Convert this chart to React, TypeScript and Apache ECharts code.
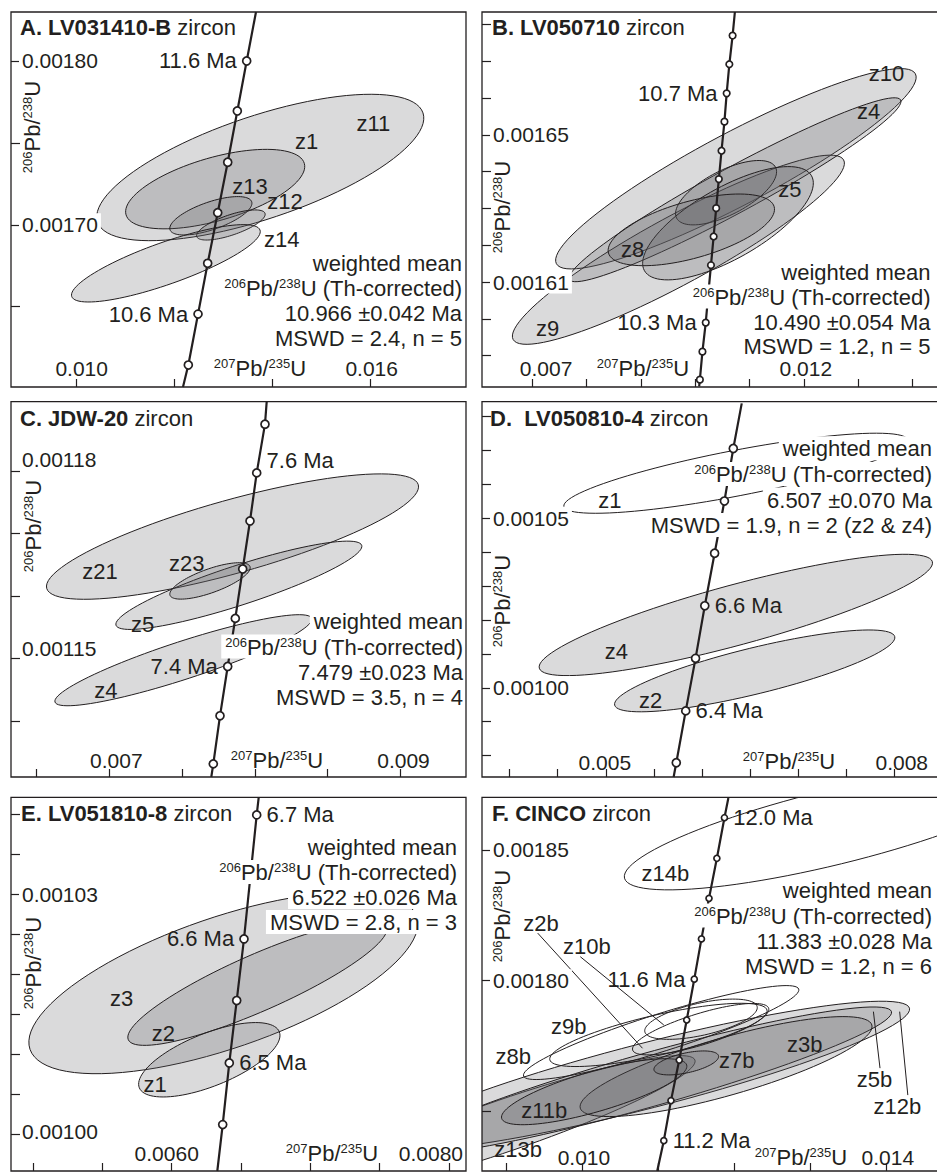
import React, { useEffect, useRef } from 'react';
import * as echarts from 'echarts';

const FONT = "'Liberation Sans', Arial, Helvetica, sans-serif";
const INK = '#231f20';
const FILL = 'rgba(95,97,101,0.23)';
const TXT = 22;
const SUP = 13;
const PB206 = '{s|206}Pb/{s|238}U (Th-corrected)';
const PB207 = '{s|207}Pb/{s|235}U';
const PB206Y = '{s|206}Pb/{s|238}U';

// ---------------- Panel A: LV031410-B ----------------
const xTicksA = [0.010, 0.012, 0.014, 0.016];
const xLabelsA: [number, string][] = [[0.010, '0.010'], [0.016, '0.016']];
const yTicksA = [0.00165, 0.0017, 0.00175, 0.0018];
const yLabelsA: [number, string][] = [[0.0017, '0.00170'], [0.0018, '0.00180']];
// concordia: [207Pb/235U, 206Pb/238U, age Ma | null]
const concordiaA: [number, number, number | null][] = [
  [0.013659, 0.0018299, null], [0.013469, 0.00180, 11.6], [0.013278, 0.0017695, 11.4],
  [0.013082, 0.0017382, 11.2], [0.012878, 0.0017074, 11.0], [0.012673, 0.0016765, 10.8],
  [0.012476, 0.0016455, 10.6], [0.012278, 0.0016144, 10.4], [0.012169, 0.0016010, null],
];
const ageLabelsA: [number, string][] = [[11.6, 'left'], [10.6, 'left']];
// ellipses: [centre x, centre y, major-axis tip x, tip y, minor/major ratio, filled]
const ellipsesA = [
  [0.013746, 0.0017350, 0.017067, 0.0017683, 0.30, 1],
  [0.012826, 0.0017218, 0.014645, 0.0017375, 0.34, 1],
  [0.012738, 0.0017055, 0.013571, 0.0017141, 0.32, 1],
  [0.013146, 0.0016999, 0.013843, 0.0017070, 0.28, 1],
  [0.011820, 0.0016765, 0.013741, 0.0016968, 0.21, 1],
];
const grainLabelsA: [number, number, string][] = [
  [0.016053, 0.0017620, 'z11'], [0.014694, 0.0017507, 'z1'], [0.013537, 0.0017233, 'z13'],
  [0.014251, 0.0017141, 'z12'], [0.014184, 0.0016912, 'z14'],
];
const meanA = ['10.966 ±0.042 Ma', 'MSWD = 2.4, n = 5'];

// ---------------- Panel B: LV050710 ----------------
const xTicksB = [0.007, 0.008, 0.009, 0.010, 0.011, 0.012, 0.013, 0.014];
const xLabelsB: [number, string][] = [[0.007, '0.007'], [0.012, '0.012']];
const yTicksB = [0.00159, 0.0016, 0.00161, 0.00162, 0.00163, 0.00164, 0.00165, 0.00166, 0.00167, 0.00168];
const yLabelsB: [number, string][] = [[0.00161, '0.00161'], [0.00165, '0.00165']];
const concordiaB: [number, number, number | null][] = [
  [0.010731, 0.0016834, null], [0.010689, 0.0016770, 10.80], [0.010629, 0.0016692, 10.75],
  [0.010580, 0.0016613, 10.70], [0.010539, 0.0016536, 10.65], [0.010485, 0.0016457, 10.60],
  [0.010436, 0.0016380, 10.55], [0.010387, 0.0016301, 10.50], [0.010340, 0.0016224, 10.45],
  [0.010291, 0.0016146, 10.40], [0.010242, 0.0016068, 10.35], [0.010195, 0.0015990, 10.30],
  [0.010134, 0.0015911, 10.25], [0.010087, 0.0015835, 10.20], [0.010074, 0.0015817, null],
];
const ageLabelsB: [number, string][] = [[10.7, 'left'], [10.3, 'left']];
const ellipsesB = [
  [0.0107496, 0.0016408, 0.0140524, 0.0016666, 0.178, 1],
  [0.0096917, 0.0016188, 0.0127323, 0.0016432, 0.18, 1],
  [0.0107342, 0.0016351, 0.0137811, 0.0016595, 0.12, 1],
  [0.0105687, 0.0016343, 0.0114792, 0.0016412, 0.40, 1],
  [0.0106040, 0.0016260, 0.0121410, 0.0016389, 0.37, 1],
  [0.0099294, 0.0016242, 0.0114538, 0.0016305, 0.33, 1],
];
const grainLabelsB: [number, number, string][] = [
  [0.0135225, 0.0016668, 'z10'], [0.0131898, 0.0016563, 'z4'], [0.0117432, 0.0016351, 'z5'],
  [0.0088499, 0.0016188, 'z8'], [0.0072839, 0.0015975, 'z9'],
];
const meanB = ['10.490 ±0.054 Ma', 'MSWD = 1.2, n = 5'];

// ---------------- Panel C: JDW-20 ----------------
const xTicksC = [0.0065, 0.007, 0.0075, 0.008, 0.0085, 0.009];
const xLabelsC: [number, string][] = [[0.007, '0.007'], [0.009, '0.009']];
const yTicksC = [0.00114, 0.00115, 0.00116, 0.00117, 0.00118];
const yLabelsC: [number, string][] = [[0.00115, '0.00115'], [0.00118, '0.00118']];
const concordiaC: [number, number, number | null][] = [
  [0.0080810, 0.0011911, null], [0.0080693, 0.0011875, 7.65], [0.0080124, 0.0011797, 7.60],
  [0.0079663, 0.0011720, 7.55], [0.0079162, 0.0011643, 7.50], [0.0078654, 0.0011564, 7.45],
  [0.0078132, 0.0011487, 7.40], [0.0077603, 0.0011408, 7.35], [0.0077143, 0.0011331, 7.30],
  [0.0077005, 0.0011310, null],
];
const ageLabelsC: [number, string][] = [[7.6, 'right'], [7.4, 'left']];
const ellipsesC = [
  [0.0078462, 0.0011695, 0.0091222, 0.0011778, 0.19, 1],
  [0.0078898, 0.0011617, 0.0087335, 0.0011681, 0.153, 1],
  [0.0075086, 0.0011497, 0.0083901, 0.0011564, 0.14, 1],
  [0.0076916, 0.0011624, 0.0079663, 0.0011647, 0.28, 1],
];
const grainLabelsC: [number, number, string][] = [
  [0.0069361, 0.0011639, 'z21'], [0.0075316, 0.0011652, 'z23'],
  [0.0072294, 0.0011554, 'z5'], [0.0069773, 0.0011449, 'z4'],
];
const meanC = ['7.479 ±0.023 Ma', 'MSWD = 3.5, n = 4'];

// ---------------- Panel D: LV050810-4 ----------------
const xTicksD = [0.004, 0.0045, 0.005, 0.0055, 0.006, 0.0065, 0.007, 0.0075, 0.008];
const xLabelsD: [number, string][] = [[0.005, '0.005'], [0.008, '0.008']];
const yTicksD = [0.00098, 0.00099, 0.001, 0.00101, 0.00102, 0.00103, 0.00104, 0.00105, 0.00106, 0.00107, 0.00108];
const yLabelsD: [number, string][] = [[0.001, '0.00100'], [0.00105, '0.00105']];
const concordiaD: [number, number, number | null][] = [
  [0.0064112, 0.0010839, null], [0.0063235, 0.0010706, 6.9], [0.0062316, 0.0010551, 6.8],
  [0.0061296, 0.0010397, 6.7], [0.0060276, 0.0010242, 6.6], [0.0059316, 0.0010087, 6.5],
  [0.0058296, 0.0009932, 6.4], [0.0057316, 0.0009779, 6.3], [0.0057041, 0.0009737, null],
];
const ageLabelsD: [number, string][] = [[6.6, 'right'], [6.4, 'right']];
const ellipsesD = [
  [0.0063500, 0.0010215, 0.0083908, 0.0010372, 0.148, 1],
  [0.0065459, 0.0010050, 0.0080000, 0.0010151, 0.16, 1],
  [0.0063500, 0.0010633, 0.0081357, 0.0010731, 0.13, 0],
];
const grainLabelsD: [number, number, string][] = [
  [0.0050408, 0.0010554, 'z1'], [0.0051092, 0.0010106, 'z4'], [0.0054663, 0.0009964, 'z2'],
];
const meanD = ['6.507 ±0.070 Ma', 'MSWD = 1.9, n = 2 (z2 & z4)'];

// ---------------- Panel E: LV051810-8 ----------------
const xTicksE = [0.005, 0.0055, 0.006, 0.0065, 0.007, 0.0075, 0.008];
const xLabelsE: [number, string][] = [[0.006, '0.0060'], [0.008, '0.0080']];
const yTicksE = [0.001, 0.001005, 0.00101, 0.001015, 0.00102, 0.001025, 0.00103, 0.001035, 0.00104];
const yLabelsE: [number, string][] = [[0.001, '0.00100'], [0.00103, '0.00103']];
const concordiaE: [number, number, number | null][] = [
  [0.0066277, 0.0010421, null], [0.0066133, 0.0010399, 6.70], [0.0065671, 0.0010321, 6.65],
  [0.0065216, 0.0010244, 6.60], [0.0064690, 0.0010167, 6.55], [0.0064156, 0.0010089, 6.50],
  [0.0063680, 0.0010012, 6.45], [0.0063290, 0.0009954, null],
];
const ageLabelsE: [number, string][] = [[6.7, 'right'], [6.6, 'left'], [6.5, 'right']];
const ellipsesE = [
  [0.0063727, 0.0010189, 0.0077677, 0.0010272, 0.32, 1],
  [0.0066191, 0.0010189, 0.0075512, 0.0010260, 0.20, 1],
  [0.0062713, 0.0010093, 0.0067763, 0.0010128, 0.35, 1],
];
const grainLabelsE: [number, number, string][] = [
  [0.0056393, 0.0010170, 'z3'], [0.0059394, 0.0010126, 'z2'], [0.0058795, 0.0010062, 'z1'],
];
const meanE = ['6.522 ±0.026 Ma', 'MSWD = 2.8, n = 3'];

// ---------------- Panel F: CINCO ----------------
const xTicksF = [0.009, 0.010, 0.011, 0.012, 0.013, 0.014];
const xLabelsF: [number, string][] = [[0.010, '0.010'], [0.014, '0.014']];
const yTicksF = [0.00175, 0.0018, 0.00185];
const yLabelsF: [number, string][] = [[0.0018, '0.00180'], [0.00185, '0.00185']];
const concordiaF: [number, number, number | null][] = [
  [0.0119276, 0.0018698, null], [0.0118759, 0.0018623, 12.0], [0.0117763, 0.0018468, 11.9],
  [0.0116728, 0.0018315, 11.8], [0.0115732, 0.0018160, 11.7], [0.0114787, 0.0018006, 11.6],
  [0.0113791, 0.0017850, 11.5], [0.0112808, 0.0017697, 11.4], [0.0111721, 0.0017542, 11.3],
  [0.0110777, 0.0017389, 11.2], [0.0109910, 0.0017273, null],
];
const ageLabelsF: [number, string][] = [[12.0, 'right'], [11.6, 'left'], [11.2, 'right']];
const ellipsesF = [
  [0.0090078, 0.0017449, 0.0114878, 0.0017697, 0.13, 1],
  [0.0108513, 0.0017637, 0.0143119, 0.0017895, 0.12, 1],
  [0.0108410, 0.0017618, 0.0140752, 0.0017882, 0.105, 1],
  [0.0118972, 0.0017672, 0.0138164, 0.0017831, 0.19, 1],
  [0.0101611, 0.0017576, 0.0113791, 0.0017678, 0.21, 1],
  [0.0113733, 0.0017686, 0.0117982, 0.0017713, 0.30, 1],
  [0.0110065, 0.0017793, 0.0124360, 0.0017888, 0.18, 0],
  [0.0110427, 0.0017802, 0.0128539, 0.0017968, 0.13, 0],
  [0.0115673, 0.0017853, 0.0123067, 0.0017901, 0.28, 0],
  [0.0115628, 0.0017815, 0.0124580, 0.0017895, 0.22, 0],
  [0.0132983, 0.0018586, 0.0160364, 0.0018780, 0.175, 0],
];
const grainLabelsF: [number, number, string][] = [
  [0.0110996, 0.0018411, 'z14b'], [0.0094605, 0.0018220, 'z2b'], [0.0100647, 0.0018130, 'z10b'],
  [0.0098266, 0.0017827, 'z9b'], [0.0090944, 0.0017710, 'z8b'], [0.0120389, 0.0017697, 'z7b'],
  [0.0129315, 0.0017755, 'z3b'], [0.0138500, 0.0017621, 'z5b'], [0.0141528, 0.0017519, 'z12b'],
  [0.0095032, 0.0017506, 'z11b'], [0.0091591, 0.0017356, 'z13b'],
];
const leadersF = [
  [0.0094178, 0.0018182, 0.0107969, 0.0017742],
  [0.0099780, 0.0018092, 0.0110777, 0.0017831],
  [0.0138371, 0.0017882, 0.0139238, 0.0017666],
  [0.0141826, 0.0017882, 0.0142899, 0.0017563],
];
const meanF = ['11.383 ±0.028 Ma', 'MSWD = 1.2, n = 6'];

// ---------------- layout of the six panels ----------------
const panels: any[] = [
  {
    box: [11, 12, 455, 375], xRange: [0.0086592, 0.0179448], yRange: [0.0016010, 0.0018299],
    xTicks: xTicksA, xLabels: xLabelsA, xDx: [5, 1], xMargin: 8, yTicks: yTicksA, yLabels: yLabelsA, yDy: [0, 0],
    concordia: concordiaA, ageLabels: ageLabelsA, ellipses: ellipsesA, grainLabels: grainLabelsA, leaders: [],
    mark: 8, title: '{b|A. LV031410-B} zircon', titleAt: [20, 27], mean: meanA, meanX: 466, meanY: [263.3, 288.3, 313.3, 338.3],
    yTitleAt: [32, 127], xTitleAt: [260, 368],
  },
  {
    box: [482, 12, 463, 375], xRange: [0.0060778, 0.0144502], yRange: [0.0015815, 0.0016834],
    xTicks: xTicksB, xLabels: xLabelsB, xDx: [14, 2], xMargin: 8, yTicks: yTicksB, yLabels: yLabelsB, yDy: [0, 0],
    concordia: concordiaB, ageLabels: ageLabelsB, ellipses: ellipsesB, grainLabels: grainLabelsB, leaders: [],
    mark: 6.5, title: '{b|B. LV050710} zircon', titleAt: [492, 27], mean: meanB, meanX: 934.5, meanY: [271.5, 296.5, 321.5, 346.3],
    yTitleAt: [502, 207], xTitleAt: [643, 368],
  },
  {
    box: [11, 401.7, 455, 375.3], xRange: [0.0063249, 0.0094498], yRange: [0.0011310, 0.0011911],
    xTicks: xTicksC, xLabels: xLabelsC, xDx: [7, 3], xMargin: 6, yTicks: yTicksC, yLabels: yLabelsC, yDy: [-10, -12],
    concordia: concordiaC, ageLabels: ageLabelsC, ellipses: ellipsesC, grainLabels: grainLabelsC, leaders: [],
    mark: 8, title: '{b|C. JDW-20} zircon', titleAt: [20, 418], mean: meanC, meanX: 467, meanY: [621, 646.5, 671.5, 696.5],
    yTitleAt: [33, 526], xTitleAt: [277, 760],
  },
  {
    box: [482, 401.7, 463, 375.3], xRange: [0.0037143, 0.0084387], yRange: [0.0009737, 0.0010844],
    xTicks: xTicksD, xLabels: xLabelsD, xDx: [-1, 7], xMargin: 4, yTicks: yTicksD, yLabels: yLabelsD, yDy: [0, 0],
    concordia: concordiaD, ageLabels: ageLabelsD, ellipses: ellipsesD, grainLabels: grainLabelsD, leaders: [],
    mark: 8, title: '{b|D.  LV050810-4} zircon', titleAt: [490, 418], mean: meanD, meanX: 936, meanY: [448.3, 474, 499.5, 525],
    yTitleAt: [502, 601], xTitleAt: [789, 761],
  },
  {
    box: [11, 797.3, 455, 373.7], xRange: [0.0048405, 0.0081234], yRange: [0.0009954, 0.0010421],
    xTicks: xTicksE, xLabels: xLabelsE, xDx: [-5, -18], xMargin: 7, yTicks: yTicksE, yLabels: yLabelsE, yDy: [-3, 0],
    concordia: concordiaE, ageLabels: ageLabelsE, ellipses: ellipsesE, grainLabels: grainLabelsE, leaders: [],
    mark: 8, title: '{b|E. LV051810-8} zircon', titleAt: [21, 813], mean: meanE, meanX: 461, meanY: [847.3, 872, 897, 922],
    yTitleAt: [33, 963], xTitleAt: [332, 1153],
  },
  {
    box: [482, 797.3, 463, 373.7], xRange: [0.0086843, 0.0146741], yRange: [0.0017273, 0.0018701],
    xTicks: xTicksF, xLabels: xLabelsF, xDx: [2, 2], xMargin: 3, yTicks: yTicksF, yLabels: yLabelsF, yDy: [0, 0],
    concordia: concordiaF, ageLabels: ageLabelsF, ellipses: ellipsesF, grainLabels: grainLabelsF, leaders: leadersF,
    mark: 6, title: '{b|F. CINCO} zircon', titleAt: [492, 813], mean: meanF, meanX: 936, meanY: [890, 915.5, 940.5, 965.5],
    yTitleAt: [502, 916], xTitleAt: [801, 1157],
  },
];

const supRich = {
  s: { fontSize: SUP, fontFamily: FONT, fill: INK, color: INK, verticalAlign: 'top', lineHeight: 12 },
  b: { fontSize: TXT, fontFamily: FONT, fill: INK, color: INK, fontWeight: 'bold', lineHeight: 23 },
};

function nearest(list: [number, string][], v: number) {
  let k = 0;
  let best = Infinity;
  list.forEach((d, i) => {
    const diff = Math.abs(d[0] - v);
    if (diff < best) { best = diff; k = i; }
  });
  return k;
}

function buildOption() {
  const grid: any[] = [];
  const xAxis: any[] = [];
  const yAxis: any[] = [];
  const series: any[] = [];
  const graphic: any[] = [];

  panels.forEach((p, i) => {
    const [l, t, w, h] = p.box;
    grid.push({ left: l, top: t, width: w, height: h, show: false });

    const xRich: any = {};
    p.xLabels.forEach((_: any, k: number) => {
      const dx = p.xDx[k];
      xRich['t' + k] = {
        fontSize: 21, fontFamily: FONT, color: INK,
        padding: dx >= 0 ? [0, 0, 0, 2 * dx] : [0, -2 * dx, 0, 0],
      };
    });
    xAxis.push({
      gridIndex: i, type: 'value', min: p.xRange[0], max: p.xRange[1], position: 'bottom', z: 5,
      axisLine: { show: false, onZero: false },
      axisTick: { show: true, inside: true, length: 8, customValues: p.xTicks, lineStyle: { color: INK, width: 1.2 } },
      axisLabel: {
        show: true, inside: true, margin: p.xMargin, customValues: p.xLabels.map((d: any) => d[0]),
        formatter: (v: number) => { const k = nearest(p.xLabels, v); return '{t' + k + '|' + p.xLabels[k][1] + '}'; },
        rich: xRich,
      },
      splitLine: { show: false },
    });

    const yRich: any = {};
    p.yLabels.forEach((_: any, k: number) => {
      const dy = p.yDy[k];
      yRich['t' + k] = dy === 0
        ? { fontSize: 21, fontFamily: FONT, color: INK, backgroundColor: '#fff', padding: [1, 3, 1, 3] }
        : { fontSize: 21, fontFamily: FONT, color: INK, padding: [0, 0, -2 * dy, 3] };
    });
    yAxis.push({
      gridIndex: i, type: 'value', min: p.yRange[0], max: p.yRange[1], position: 'left', z: 5,
      axisLine: { show: false, onZero: false },
      axisTick: { show: true, inside: true, length: 9, customValues: p.yTicks, lineStyle: { color: INK, width: 1.2 } },
      axisLabel: {
        show: true, inside: true, margin: 8, customValues: p.yLabels.map((d: any) => d[0]),
        formatter: (v: number) => { const k = nearest(p.yLabels, v); return '{t' + k + '|' + p.yLabels[k][1] + '}'; },
        rich: yRich,
      },
      splitLine: { show: false },
    });

    // error ellipses
    series.push({
      type: 'custom', xAxisIndex: i, yAxisIndex: i, clip: true, z: 2, silent: true,
      data: p.ellipses.map((e: number[]) => [e[0], e[1]]),
      renderItem: (params: any, api: any) => {
        const e = p.ellipses[params.dataIndex];
        const c = api.coord([e[0], e[1]]);
        const tp = api.coord([e[2], e[3]]);
        const ux = tp[0] - c[0];
        const uy = tp[1] - c[1];
        const a = Math.hypot(ux, uy);
        const b = a * e[4];
        const ex = ux / a;
        const ey = uy / a;
        const pts: number[][] = [];
        for (let k = 0; k < 96; k++) {
          const th = (2 * Math.PI * k) / 96;
          const ca = a * Math.cos(th);
          const sb = b * Math.sin(th);
          pts.push([c[0] + ca * ex - sb * ey, c[1] + ca * ey + sb * ex]);
        }
        return {
          type: 'polygon', shape: { points: pts },
          style: { fill: e[5] ? FILL : 'none', stroke: INK, lineWidth: 1 },
        };
      },
    });

    if (p.leaders.length) {
      series.push({
        type: 'custom', xAxisIndex: i, yAxisIndex: i, clip: true, z: 3, silent: true,
        data: p.leaders.map((d: number[]) => [d[0], d[1]]),
        renderItem: (params: any, api: any) => {
          const d = p.leaders[params.dataIndex];
          const s = api.coord([d[0], d[1]]);
          const e = api.coord([d[2], d[3]]);
          return { type: 'line', shape: { x1: s[0], y1: s[1], x2: e[0], y2: e[1] }, style: { stroke: INK, lineWidth: 1 } };
        },
      });
    }

    // concordia curve with age ticks
    series.push({
      type: 'line', xAxisIndex: i, yAxisIndex: i, z: 4, silent: true, clip: true,
      symbol: 'circle', symbolSize: p.mark,
      itemStyle: { color: '#fff', borderColor: INK, borderWidth: 1.7 },
      lineStyle: { color: INK, width: 2.2 },
      label: { fontSize: TXT, fontFamily: FONT, color: INK, distance: 5 },
      data: p.concordia.map((c: any[]) => {
        const age = c[2];
        const lab = age == null ? null : p.ageLabels.find((a: any) => Math.abs(a[0] - age) < 1e-6);
        const item: any = { value: [c[0], c[1]], symbol: age == null ? 'none' : 'circle' };
        if (lab) {
          item.label = {
            show: true, position: lab[1], formatter: age.toFixed(1) + ' Ma',
            offset: i === 2 && lab[1] === 'right' ? [0, -12] : [0, 0],
          };
        }
        return item;
      }),
    });

    // grain labels
    series.push({
      type: 'custom', xAxisIndex: i, yAxisIndex: i, z: 4, silent: true,
      data: p.grainLabels.map((d: any[]) => [d[0], d[1]]),
      renderItem: (params: any, api: any) => {
        const d = p.grainLabels[params.dataIndex];
        const pt = api.coord([d[0], d[1]]);
        return {
          type: 'text', x: pt[0], y: pt[1],
          style: { text: d[2], fill: INK, fontSize: TXT, fontFamily: FONT, align: 'center', verticalAlign: 'middle' },
        };
      },
    });

    // annotations
    graphic.push({
      type: 'text', x: p.titleAt[0], y: p.titleAt[1], z: 10, silent: true,
      style: { text: p.title, fill: INK, fontSize: TXT, fontFamily: FONT, lineHeight: 23, align: 'left', verticalAlign: 'middle', rich: supRich },
    });
    const lines = ['weighted mean', PB206, p.mean[0], p.mean[1]];
    lines.forEach((txt, k) => {
      graphic.push({
        type: 'text', x: p.meanX, y: p.meanY[k], z: 10, silent: true,
        style: {
          text: txt, fill: INK, fontSize: TXT, fontFamily: FONT, align: 'right', verticalAlign: 'middle',
          lineHeight: 23, backgroundColor: '#fff', padding: [1, 4, 0, 4], rich: supRich,
        },
      });
    });
    graphic.push({
      type: 'text', x: p.yTitleAt[0], y: p.yTitleAt[1], rotation: Math.PI / 2, z: 10, silent: true,
      style: { text: PB206Y, fill: INK, fontSize: TXT, fontFamily: FONT, align: 'center', verticalAlign: 'middle', lineHeight: 23, rich: supRich },
    });
    graphic.push({
      type: 'text', x: p.xTitleAt[0], y: p.xTitleAt[1], z: 10, silent: true,
      style: { text: PB207, fill: INK, fontSize: TXT, fontFamily: FONT, align: 'center', verticalAlign: 'middle', lineHeight: 23, rich: supRich },
    });
    graphic.push({
      type: 'rect', z: 20, silent: true,
      shape: { x: l, y: t, width: w, height: h },
      style: { fill: 'none', stroke: INK, lineWidth: 1.3 },
    });
  });

  return {
    animation: false,
    backgroundColor: '#ffffff',
    textStyle: { fontFamily: FONT, color: INK },
    grid, xAxis, yAxis, series, graphic,
  };
}

export default function App() {
  const ref = useRef<HTMLDivElement>(null);
  useEffect(() => {
    if (!ref.current) return;
    const chart = echarts.init(ref.current, undefined, { renderer: 'svg' });
    chart.setOption(buildOption() as any);
    return () => chart.dispose();
  }, []);
  return (
    <div
      ref={ref}
      style={{ position: 'absolute', left: 0, top: 0, width: 937, height: 1172, background: '#fff' }}
    />
  );
}
